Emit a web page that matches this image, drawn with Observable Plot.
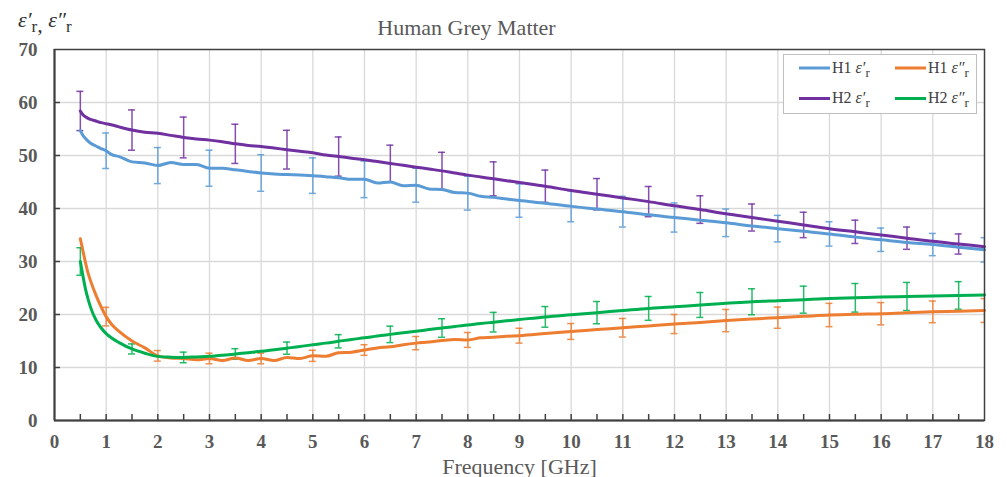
<!DOCTYPE html>
<html><head><meta charset="utf-8">
<script src="https://cdn.jsdelivr.net/npm/d3@7"></script>
<script src="https://cdn.jsdelivr.net/npm/@observablehq/plot@0.6"></script>
<style>body{margin:0;background:#fff}</style>
</head><body><div id="chart"></div>
<script>
const freq = [0.5,0.55,0.6,0.65,0.7,0.8,0.9,1.0,1.1,1.25,
  1.5,1.75,2.0,2.25,2.5,2.75,3.0,3.25,3.5,3.75,4.0,4.25,4.5,4.75,5.0,5.25,5.5,5.75,6.0,6.25,6.5,6.75,7.0,7.25,7.5,7.75,8.0,8.25,8.5,8.75,9.0,
  9.5,10,10.5,11,11.5,12,12.5,13,13.5,14,14.5,15,15.5,16,16.5,17,17.5,18];
const h1Real = [54.7,53.8,53.2,52.7,52.3,51.8,51.3,50.9,50.2,49.8,
  48.8,48.6,48.1,48.7,48.3,48.3,47.6,47.6,47.3,47.0,46.7,46.5,46.4,46.3,46.2,46.0,45.8,45.5,45.5,44.8,45.0,44.3,44.4,43.7,43.6,43.0,42.9,42.3,42.1,41.8,41.5,
  41.0,40.4,39.9,39.4,38.8,38.3,37.8,37.3,36.7,36.2,35.7,35.2,34.6,34.1,33.6,33.2,32.7,32.2];
const h1Imag = [34.3,32.0,29.8,27.8,26.3,23.7,21.5,19.6,18.2,16.8,
  15.0,13.7,12.2,11.8,11.7,11.45,11.7,11.3,11.8,11.3,11.7,11.3,11.9,11.7,12.2,12.1,12.8,12.9,13.3,13.7,13.9,14.3,14.6,14.8,15.1,15.3,15.2,15.6,15.7,15.9,16.0,
  16.4,16.8,17.15,17.5,17.85,18.2,18.5,18.85,19.15,19.4,19.65,19.9,20.05,20.15,20.35,20.5,20.6,20.75];
const h2Real = [58.4,57.7,57.3,57.0,56.8,56.5,56.2,56.0,55.8,55.4,
  54.8,54.4,54.2,53.8,53.4,53.1,52.9,52.6,52.2,51.9,51.7,51.4,51.1,50.8,50.5,50.1,49.8,49.5,49.2,48.85,48.5,48.15,47.8,47.45,47.1,46.7,46.3,45.95,45.6,45.25,44.9,
  44.2,43.4,42.7,42.0,41.3,40.5,39.8,39.0,38.3,37.6,36.9,36.2,35.6,35.0,34.4,33.8,33.3,32.8];
const h2Imag = [30.0,27.3,24.8,22.9,21.3,19.0,17.5,16.4,15.6,14.7,
  13.5,12.7,12.1,11.95,11.9,12.0,12.1,12.3,12.55,12.8,13.05,13.35,13.65,13.95,14.3,14.6,14.95,15.3,15.6,15.95,16.25,16.55,16.85,17.15,17.45,17.75,18.0,18.3,18.55,18.8,19.05,
  19.55,19.95,20.35,20.75,21.15,21.45,21.8,22.1,22.4,22.6,22.8,23.0,23.15,23.3,23.4,23.5,23.6,23.7];

const errFreqInt = [1,2,3,4,5,6,7,8,9,10,11,12,13,14,15,16,17,18];
const errFreqHalf = [0.5,1.5,2.5,3.5,4.5,5.5,6.5,7.5,8.5,9.5,10.5,11.5,12.5,13.5,14.5,15.5,16.5,17.5];
const h1RealErr = [3.35,3.4,3.4,3.45,3.35,3.45,3.2,3.2,3.15,2.9,2.9,2.75,2.6,2.5,2.3,2.2,2.1,2.3];
const h1ImagErr = [1.75,1.0,1.0,1.0,1.05,1.0,1.25,1.4,1.4,1.5,1.75,1.8,2.1,2.0,2.2,2.1,2.05,2.25];
const h2RealErr = [3.7,3.8,3.85,3.7,3.65,3.7,3.45,3.5,3.2,3.05,2.95,2.85,2.6,2.55,2.4,2.2,2.1,1.9];
const h2ImagErr = [2.6,0.95,1.0,1.0,1.15,1.25,1.55,1.75,1.85,1.95,2.1,2.25,2.35,2.45,2.55,2.7,2.65,2.6];

const xTickLabels = [0,1,2,3,4,5,6,7,8,9,10,11,12,13,14,15,16,17,18];
const xTickMarks = [0.5,1,1.5,2,2.5,3,3.5,4,4.5,5,5.5,6,6.5,7,7.5,8,8.5,9,9.5,10,10.5,11,11.5,12,12.5,13,13.5,14,14.5,15,15.5,16,16.5,17,17.5];
const yTickLabels = [0,10,20,30,40,50,60,70];
const seriesKeys = ["h1r","h1i","h2r","h2i"];
const seriesHost = ["H1","H1","H2","H2"];
const seriesPrime = ["\u2032","\u2033","\u2032","\u2033"];
const seriesColors = ["#5B9BD5","#ED7D31","#7030A0","#00B050"];
const titleText = "Human Grey Matter";
const xLabelText = "Frequency [GHz]";

const seriesValues = [h1Real, h1Imag, h2Real, h2Imag];
const seriesErrFreq = [errFreqInt, errFreqInt, errFreqHalf, errFreqHalf];
const seriesErr = [h1RealErr, h1ImagErr, h2RealErr, h2ImagErr];

const lineMarks = [];
const errMarks = [];
seriesKeys.forEach((k, i) => {
  const vals = seriesValues[i];
  const rows = freq.map((f, j) => ({f, v: vals[j]}));
  const lookup = new Map(rows.map(r => [r.f, r.v]));
  const errRows = seriesErrFreq[i].map((f, j) => ({f, lo: lookup.get(f) - seriesErr[i][j], hi: lookup.get(f) + seriesErr[i][j]}));
  const c = seriesColors[i];
  errMarks.push(Plot.ruleX(errRows, {x: "f", y1: "lo", y2: "hi", stroke: c, strokeWidth: 1.5, strokeOpacity: 0.85, clip: true}));
  errMarks.push(Plot.ruleY(errRows, {y: "lo", x1: "f", x2: "f", insetLeft: -3.5, insetRight: -3.5, stroke: c, strokeWidth: 1.5, strokeOpacity: 0.85, clip: true}));
  errMarks.push(Plot.ruleY(errRows, {y: "hi", x1: "f", x2: "f", insetLeft: -3.5, insetRight: -3.5, stroke: c, strokeWidth: 1.5, strokeOpacity: 0.85, clip: true}));
  lineMarks.push(Plot.line(rows, {x: "f", y: "v", stroke: c, strokeWidth: 3, curve: "monotone-x"}));
});

const gridX = xTickLabels.filter(d => d > 0 && d < 18);
const gridY = yTickLabels.filter(d => d > 0 && d < 70);

const plot = Plot.plot({
  width: 1007, height: 477,
  marginLeft: 54, marginRight: 23, marginTop: 49, marginBottom: 57,
  x: {domain: [0, 18], axis: null},
  y: {domain: [0, 70], axis: null},
  style: {fontFamily: "'Liberation Serif', 'Times New Roman', serif", background: "#fff", overflow: "visible"},
  marks: [
    Plot.ruleX(gridX, {x: d => d, stroke: "#d9d9d9", strokeWidth: 1.3}),
    Plot.ruleY(gridY, {y: d => d, stroke: "#d9d9d9", strokeWidth: 1.3}),
    ...errMarks,
    ...lineMarks,
    Plot.frame({stroke: "#404040", strokeWidth: 1.5}),
    Plot.ruleX([0], {x: d => d, stroke: "#404040", strokeWidth: 2}),
    Plot.ruleY([0], {y: d => d, stroke: "#404040", strokeWidth: 2}),
    Plot.ruleX(xTickMarks, {x: d => d, y1: 0, y2: 0, insetTop: -6, stroke: "#404040", strokeWidth: 1.5}),
    Plot.ruleY(gridY, {y: d => d, x1: 0, x2: 0, insetRight: -6, stroke: "#404040", strokeWidth: 1.5}),
    Plot.text(xTickLabels, {x: d => d, y: 0, dy: 21, text: d => String(d), lineAnchor: "middle", fontSize: 19, fontWeight: "bold", fill: "#595959"}),
    Plot.text(yTickLabels, {x: 0, y: d => d, dx: -17, text: d => String(d), lineAnchor: "middle", textAnchor: "end", fontSize: 19, fontWeight: "bold", fill: "#595959"}),
    Plot.text([titleText], {frameAnchor: "top-left", dx: 412, dy: -22, text: d => d, lineAnchor: "middle", textAnchor: "middle", fontSize: 22, fill: "#595959"}),
    Plot.text([xLabelText], {frameAnchor: "bottom", dy: 46, text: d => d, lineAnchor: "middle", fontSize: 22, fill: "#595959"})
  ]
});

const svg = d3.select(plot);
// y-axis label
const yl = svg.append("text").attr("x", 18).attr("y", 27).attr("font-size", 22).attr("fill", "#333")
  .attr("text-anchor", "start").attr("font-family", "'Liberation Serif', serif");
yl.append("tspan").attr("font-style", "italic").text("\u03b5" + seriesPrime[0]);
yl.append("tspan").attr("dy", 5).attr("font-size", 17).text("r");
yl.append("tspan").text(", ");
yl.append("tspan").attr("dy", -5).attr("font-style", "italic").text("\u03b5" + seriesPrime[1]);
yl.append("tspan").attr("dy", 5).attr("font-size", 17).text("r");

// legend
const lg = svg.append("g").attr("font-family", "'Liberation Serif', serif").attr("font-size", 16)
  .attr("fill", "#404040").attr("text-anchor", "start");
lg.append("rect").attr("x", 783.5).attr("y", 54.5).attr("width", 193).attr("height", 59).attr("fill", "#fff").attr("stroke", "#bfbfbf");
const cols = [799, 895], rowsY = [68, 98.5];
seriesKeys.forEach((k, i) => {
  const x = cols[i % 2], y = rowsY[Math.floor(i / 2)];
  lg.append("line").attr("x1", x).attr("x2", x + 31).attr("y1", y).attr("y2", y).attr("stroke", seriesColors[i]).attr("stroke-width", 3);
  const t = lg.append("text").attr("x", x + 33).attr("y", y).attr("dy", "0.3em");
  t.append("tspan").text(seriesHost[i] + " ");
  t.append("tspan").attr("font-style", "italic").text("\u03b5" + seriesPrime[i]);
  t.append("tspan").attr("dy", 4).attr("font-size", 13).text("r");
});

document.getElementById("chart").appendChild(plot);
</script>
</body></html>
